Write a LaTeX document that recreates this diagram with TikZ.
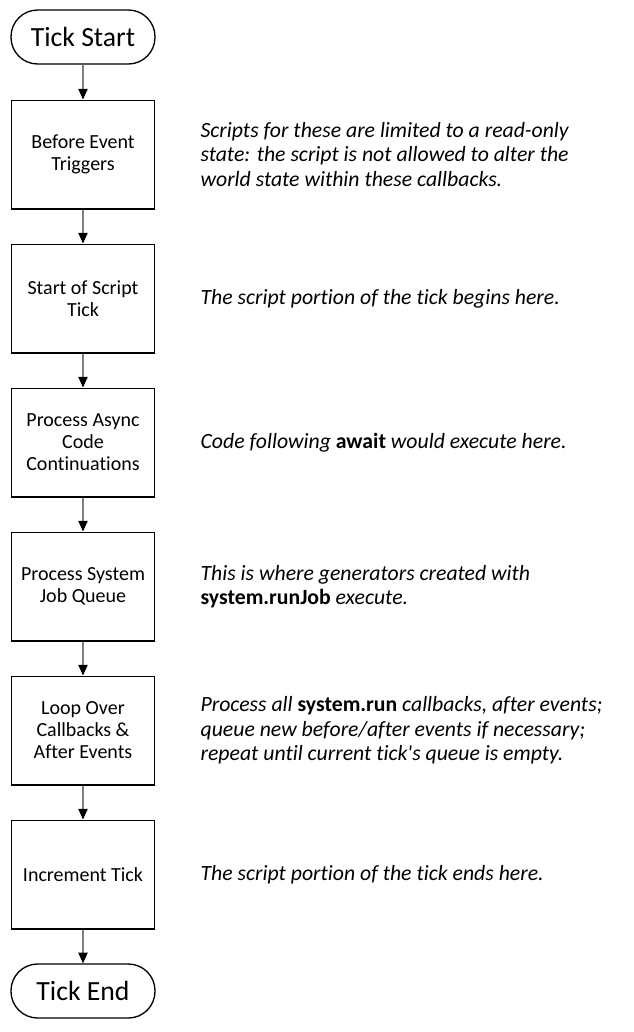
\documentclass[tikz,border=0pt]{standalone}
\usepackage{fontspec}
\setmainfont{Carlito}[Ligatures={TeXOff,NoCommon}]
\usetikzlibrary{arrows.meta,positioning}
\begin{document}
\begin{tikzpicture}[x=0.75pt,y=-0.75pt]
            \useasboundingbox (0,0) rectangle (634,1032);
            \tikzset{stepbox/.style={draw,line width=1pt,minimum width=107pt,minimum height=81.5pt,align=center,font=\fontsize{15}{16.5}\selectfont},
                     endbox/.style={draw,line width=1pt,rounded corners=20pt,minimum width=108pt,minimum height=40.5pt,font=\fontsize{20.8}{24}\selectfont},
                     notetext/.style={inner sep=0pt,align=left,font=\fontsize{16.3}{18.4}\selectfont\itshape}}
            \node[endbox] (start) at (83,37) {Tick Start};
            \node[endbox] (end) at (83,991) {Tick End};
            \foreach \n/\y/\a/\b in {
                1/154.5/{Before Event\\Triggers}/{Scripts for these are limited to a read-only\\state: the script is not allowed to alter the\\world state within these callbacks.},
                2/298.5/{Start of Script\\Tick}/{The script portion of the tick begins here.},
                3/442.5/{Process Async\\Code\\Continuations}/{Code following \textbf{\upshape await} would execute here.},
                4/586.5/{Process System\\Job Queue}/{This is where generators created with\\\textbf{\upshape system.runJob} execute.},
                5/730.5/{Loop Over\\Callbacks \&\\After Events}/{Process all \textbf{\upshape system.run} callbacks, after events;\\queue new before/after events if necessary;\\repeat until current tick's queue is empty.},
                6/874.5/{Increment Tick}/{The script portion of the tick ends here.}}
            {
                \node[stepbox] (s\n) at (83,\y) {\a};
                \node[notetext,right=34pt of s\n] (n\n) {\b};
            }
            \foreach \a/\b in {start/s1,s1/s2,s2/s3,s3/s4,s4/s5,s5/s6,s6/end}
                \draw[gray,line width=0.8pt,-{Triangle[width=7pt,length=8pt,color=black]}] (\a) -- (\b);
        \end{tikzpicture}
\end{document}
